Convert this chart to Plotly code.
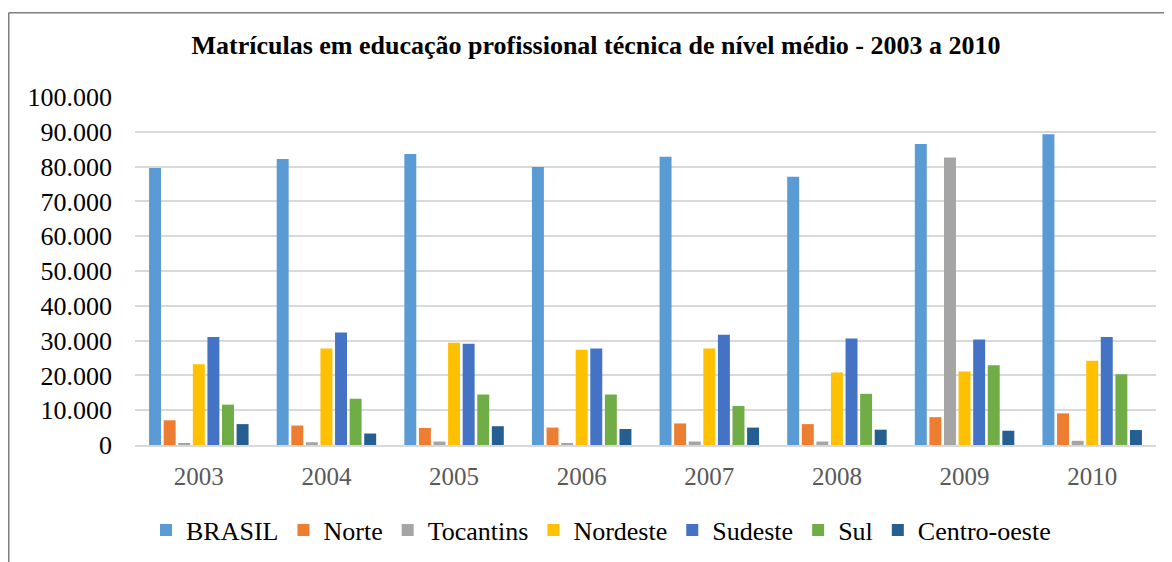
import plotly.graph_objects as go

years = ["2003", "2004", "2005", "2006", "2007", "2008", "2009", "2010"]
brasil = [79600, 82200, 83600, 79900, 82800, 77100, 86500, 89300]
norte = [7100, 5600, 4900, 5000, 6200, 6000, 8000, 9100]
tocantins = [400, 800, 1000, 400, 1000, 1000, 82600, 1200]
nordeste = [23200, 27700, 29400, 27400, 27700, 20800, 21100, 24200]
sudeste = [31000, 32300, 29100, 27700, 31700, 30600, 30300, 31000]
sul = [11600, 13300, 14500, 14500, 11200, 14700, 22900, 20300]
centro_oeste = [6000, 3300, 5400, 4600, 5000, 4400, 4100, 4300]

series = [
    ("BRASIL", brasil, "#5B9BD5"),
    ("Norte", norte, "#ED7D31"),
    ("Tocantins", tocantins, "#A5A5A5"),
    ("Nordeste", nordeste, "#FFC000"),
    ("Sudeste", sudeste, "#4472C4"),
    ("Sul", sul, "#70AD47"),
    ("Centro-oeste", centro_oeste, "#255E91"),
]

fig = go.Figure()
for name, vals, color in series:
    fig.add_trace(go.Bar(x=years, y=vals, name=name, marker_color=color,
                         marker_line_width=0))

# page is drawn with an 8px body offset; work in page pixels and convert
OFF = 8
PW, PH = 1172, 562
W, H = PW - OFF, PH - OFF
plot_l, plot_r, plot_t, plot_b = 135, 1156, 97, 445  # page pixels
ml = plot_l - OFF
mr = PW - plot_r
mt = plot_t - OFF
mb = PH - plot_b
pw = plot_r - plot_l
ph = plot_b - plot_t

def px_x(x):
    return (x - plot_l) / pw

def px_y(y):
    return (plot_b - y) / ph

frame_color = "#7F7F7F"
shapes = [
    dict(type="line", xref="paper", yref="paper", x0=px_x(8.75), x1=px_x(PW + 5),
         y0=px_y(12.75), y1=px_y(12.75), line=dict(color=frame_color, width=1.5)),
    dict(type="line", xref="paper", yref="paper", x0=px_x(8.75), x1=px_x(8.75),
         y0=px_y(12.75), y1=px_y(PH + 5), line=dict(color=frame_color, width=1.5)),
]

FS = 26
fig.update_layout(
    width=W, height=H, autosize=False,
    margin=dict(l=ml, r=mr, t=mt, b=mb, autoexpand=False),
    paper_bgcolor="white", plot_bgcolor="white",
    separators=",.",
    barmode="group", bargap=0.2, bargroupgap=0.18,
    font=dict(family="Liberation Serif, Times New Roman, serif", size=FS, color="#000000"),
    title=dict(text="<b>Matrículas em educação profissional técnica de nível médio - 2003 a 2010</b>",
               x=px_x(596), xref="paper", xanchor="center",
               y=1 - (45 - OFF) / H, yref="container", yanchor="middle",
               font=dict(size=FS, color="#000000")),
    xaxis=dict(showgrid=False, showline=True, linecolor="#D9D9D9", linewidth=1.5,
               ticks="", tickfont=dict(size=25, color="#595959"), ticklabelstandoff=8,
               tickangle=0, automargin=False),
    yaxis=dict(range=[0, 100000], dtick=10000, tickformat=",d", showgrid=True,
               gridcolor="#D9D9D9", gridwidth=1.5, zeroline=False, showline=False,
               tickfont=dict(size=FS, color="#000000"), ticklabelstandoff=22,
               automargin=False),
    legend=dict(orientation="h", x=px_x(601), xanchor="center", xref="paper",
                y=px_y(530), yanchor="middle", font=dict(size=FS, color="#000000"),
                traceorder="normal", itemwidth=30),
    shapes=shapes,
)

fig.write_html("out.html")
